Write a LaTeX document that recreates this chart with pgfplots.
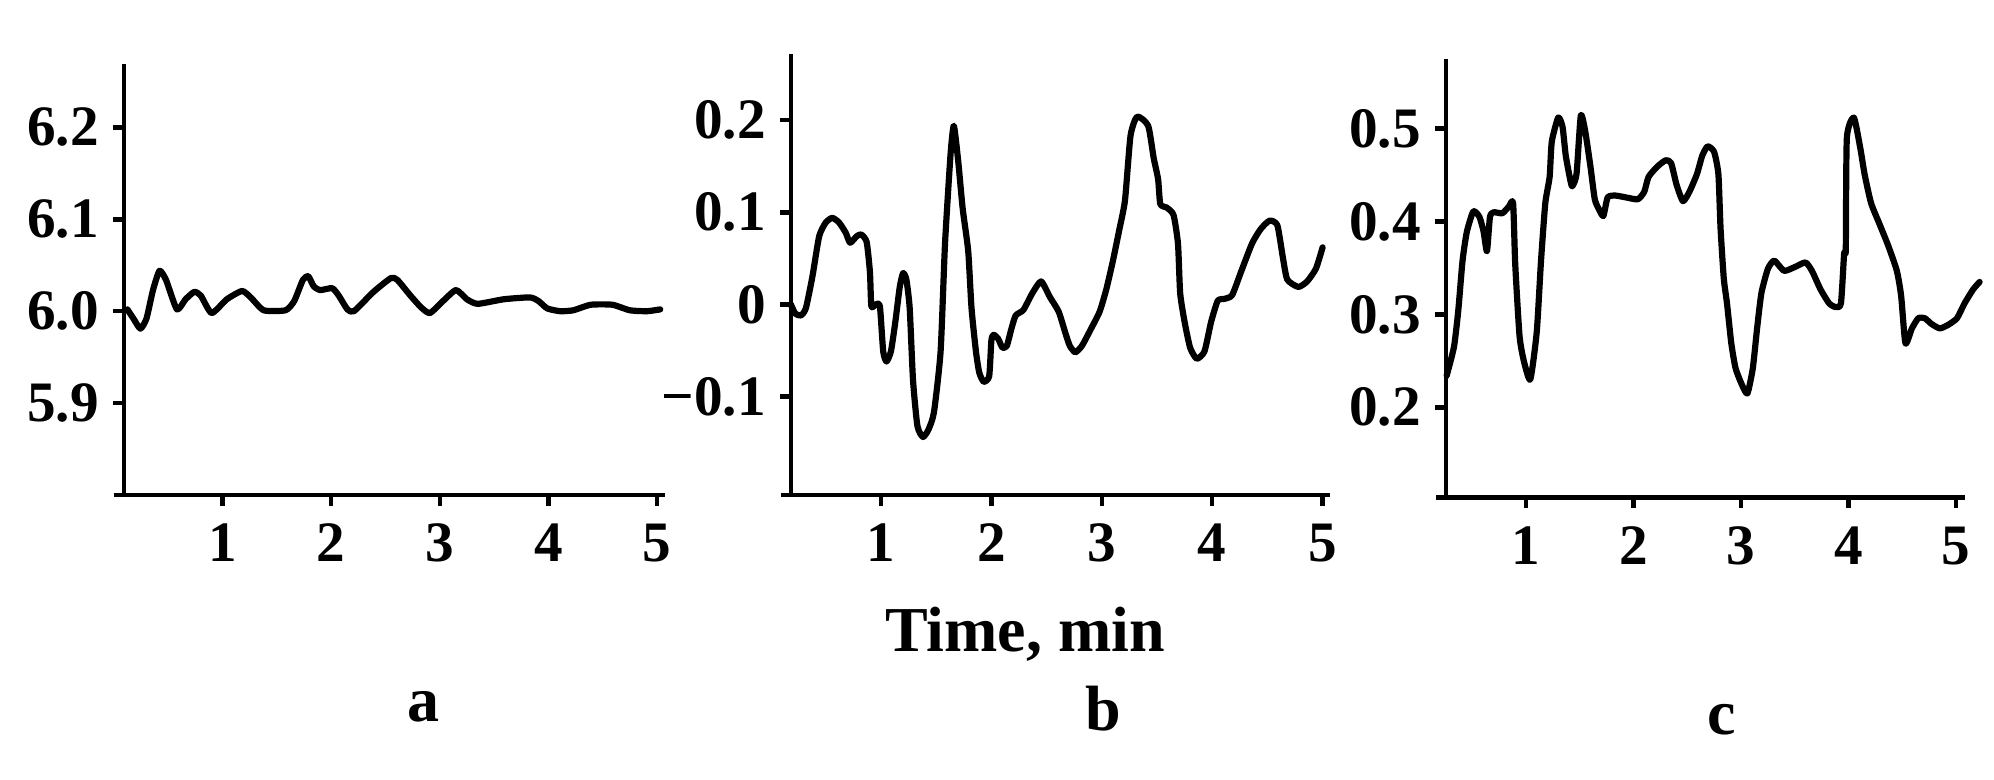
\documentclass[border=0pt]{standalone}
\usepackage{pgfplots}
\pgfplotsset{compat=1.18}
\usepackage{fontspec}
\setmainfont{Liberation Serif}
\newcommand{\tickfont}{\fontsize{14.3}{16}\selectfont\bfseries}
\newcommand{\labfont}{\fontsize{16}{19}\selectfont\bfseries}

\pgfplotstableread{
t y
0.124 6.002
0.18 5.992
0.244 5.981
0.30 5.992
0.36 6.023
0.42 6.044
0.48 6.034
0.58 6.002
0.66 6.013
0.74 6.021
0.80 6.017
0.90 5.998
1.04 6.013
1.18 6.022
1.26 6.015
1.38 6.001
1.58 6.001
1.66 6.011
1.74 6.034
1.79 6.038
1.84 6.027
1.90 6.023
2.01 6.025
2.07 6.017
2.15 6.002
2.21 6.000
2.39 6.021
2.55 6.036
2.61 6.034
2.73 6.017
2.83 6.004
2.91 5.998
3.03 6.011
3.15 6.023
3.25 6.013
3.35 6.008
3.59 6.013
3.83 6.015
3.91 6.011
3.99 6.003
4.11 6.000
4.23 6.001
4.39 6.007
4.59 6.007
4.75 6.001
4.91 6.000
5.03 6.002
}\dataA

\pgfplotstableread{
t y
0.184 0.000
0.224 -0.010
0.275 -0.012
0.32 -0.004
0.38 0.031
0.44 0.074
0.50 0.089
0.559 0.094
0.62 0.089
0.68 0.078
0.72 0.067
0.78 0.074
0.82 0.076
0.87 0.068
0.90 0.035
0.913 -0.002
0.953 0.000
0.99 -0.002
1.02 -0.051
1.05 -0.062
1.09 -0.051
1.13 -0.019
1.17 0.019
1.20 0.034
1.23 0.027
1.26 -0.004
1.29 -0.082
1.33 -0.132
1.38 -0.144
1.43 -0.136
1.48 -0.117
1.54 -0.051
1.58 0.066
1.63 0.163
1.66 0.194
1.70 0.155
1.74 0.104
1.79 0.058
1.82 -0.004
1.86 -0.051
1.89 -0.074
1.93 -0.084
1.98 -0.078
2.00 -0.039
2.02 -0.033
2.06 -0.037
2.10 -0.047
2.14 -0.045
2.18 -0.027
2.22 -0.012
2.29 -0.006
2.37 0.012
2.45 0.025
2.53 0.008
2.61 -0.008
2.67 -0.031
2.71 -0.045
2.76 -0.052
2.82 -0.045
2.90 -0.027
2.98 -0.008
3.04 0.016
3.10 0.047
3.16 0.082
3.21 0.113
3.26 0.183
3.32 0.204
3.42 0.194
3.47 0.159
3.51 0.136
3.53 0.109
3.59 0.105
3.65 0.097
3.69 0.066
3.71 0.012
3.75 -0.019
3.80 -0.047
3.86 -0.059
3.93 -0.051
3.99 -0.019
4.05 0.004
4.11 0.006
4.18 0.010
4.26 0.035
4.36 0.066
4.44 0.082
4.52 0.091
4.59 0.086
4.64 0.051
4.68 0.027
4.78 0.019
4.86 0.025
4.94 0.039
5.00 0.062
}\dataB

\pgfplotstableread{
t y
0.262 0.234
0.33 0.265
0.37 0.304
0.41 0.358
0.45 0.389
0.51 0.411
0.567 0.405
0.606 0.389
0.637 0.368
0.665 0.405
0.70 0.410
0.78 0.409
0.84 0.416
0.88 0.420
0.90 0.354
0.94 0.277
0.98 0.250
1.04 0.230
1.10 0.281
1.14 0.358
1.18 0.420
1.22 0.448
1.24 0.486
1.30 0.512
1.34 0.502
1.37 0.471
1.41 0.446
1.43 0.438
1.47 0.451
1.51 0.514
1.55 0.498
1.60 0.459
1.64 0.424
1.68 0.413
1.72 0.406
1.76 0.426
1.83 0.428
1.93 0.426
2.04 0.424
2.10 0.432
2.14 0.448
2.22 0.459
2.30 0.466
2.35 0.463
2.40 0.440
2.46 0.422
2.52 0.432
2.59 0.451
2.64 0.471
2.69 0.481
2.75 0.475
2.79 0.451
2.81 0.393
2.84 0.339
2.87 0.312
2.91 0.269
2.95 0.242
3.01 0.224
3.06 0.215
3.11 0.242
3.15 0.285
3.19 0.323
3.25 0.349
3.31 0.358
3.40 0.347
3.50 0.351
3.60 0.356
3.66 0.347
3.74 0.327
3.82 0.312
3.88 0.308
3.93 0.312
3.96 0.366
3.975 0.370
3.985 0.490
4.05 0.512
4.11 0.479
4.15 0.451
4.21 0.420
4.29 0.397
4.37 0.374
4.45 0.347
4.49 0.320
4.53 0.269
4.59 0.285
4.65 0.296
4.71 0.296
4.77 0.290
4.85 0.285
4.93 0.289
5.01 0.296
5.08 0.312
5.16 0.327
5.22 0.335
}\dataC

\pgfplotsset{
  panel/.style={
    scale only axis,
    axis x line*=bottom,
    axis y line*=left,
    axis line style={-, line width=1.15pt, black},
    x axis line style={shorten <=-2.5pt},
    tick align=outside,
    tick pos=left,
    major tick length=2.75pt,
    every tick/.style={black, line width=1.1pt},
    xtick={1,2,3,4,5},
    xticklabels={1,2,3,4,5},
    tick label style={font=\tickfont},
    xticklabel style={yshift=-1pt},
    clip=false,
    anchor=south west,
  },
  curve/.style={black, line width=1.55pt, line join=round, line cap=round, no marks, smooth, tension=0.35},
}

\begin{document}
\begin{tikzpicture}
\useasboundingbox (0,0) rectangle (498.5pt,195pt);

\begin{axis}[panel, at={(31pt,71.25pt)}, width=135.25pt, height=107.75pt,
  xmin=0.093, xmax=5.074, ymin=5.8, ymax=6.269,
  ytick={5.9,6.0,6.1,6.2}, yticklabels={5.9,6.0,6.1,6.2}]
\addplot[curve] table[x=t,y=y] {\dataA};
\end{axis}

\begin{axis}[panel, at={(197.75pt,71.25pt)}, width=134.75pt, height=110.25pt,
  xmin=0.185, xmax=5.067, ymin=-0.207, ymax=0.272,
  ytick={-0.1,0,0.1,0.2}, yticklabels={−0.1,0,0.1,0.2}]
\addplot[curve] table[x=t,y=y] {\dataB};
\end{axis}

\begin{axis}[panel, at={(361.5pt,70.625pt)}, width=129.75pt, height=109.625pt,
  xmin=0.256, xmax=5.084, ymin=0.103, ymax=0.575,
  ytick={0.2,0.3,0.4,0.5}, yticklabels={0.2,0.3,0.4,0.5}]
\addplot[curve] table[x=t,y=y] {\dataC};
\end{axis}

\node[anchor=base, font=\labfont, inner sep=0pt] at (256.25pt,32.1pt) {Time, min};
\node[anchor=base, font=\labfont, inner sep=0pt] at (105.75pt,14.5pt) {a};
\node[anchor=base, font=\labfont, inner sep=0pt] at (275.75pt,12.25pt) {b};
\node[anchor=base, font=\labfont, inner sep=0pt] at (430.5pt,11.25pt) {c};
\end{tikzpicture}
\end{document}
